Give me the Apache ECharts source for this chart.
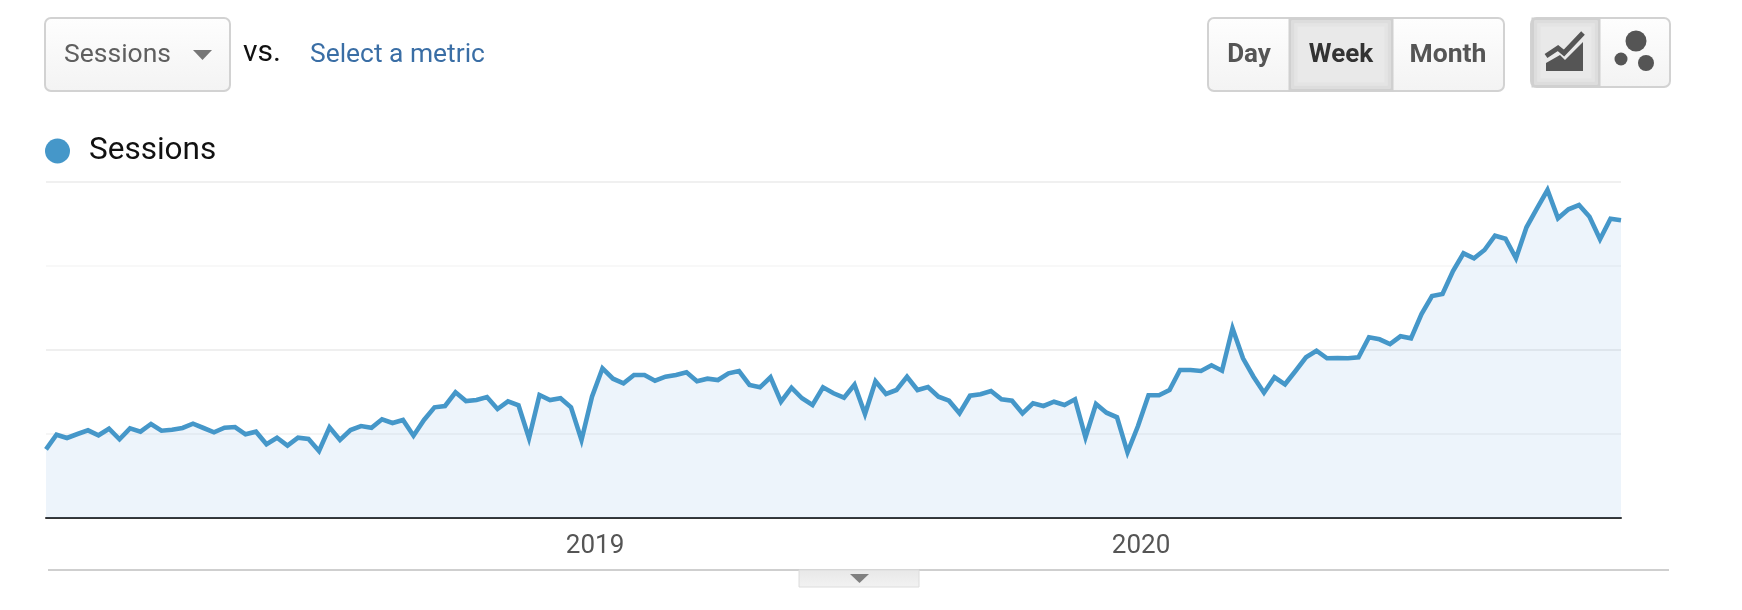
<!DOCTYPE html>
<html>
<head>
<meta charset="utf-8">
<title>Sessions</title>
<script src="https://cdn.jsdelivr.net/npm/echarts@6/dist/echarts.min.js"></script>
<style>
  html, body { margin: 0; padding: 0; background: #fff; }
  #chart { width: 1742px; height: 610px; }
</style>
</head>
<body>
<div id="chart"></div>
<script>
// no scale is printed on the picture, so values are in an arbitrary unit
const sessions = [
  687, 833, 800, 840, 877, 827, 893, 787, 897, 863,
  940, 873, 883, 900, 943, 900, 857, 903, 910, 837,
  863, 737, 803, 723, 803, 790, 670, 907, 780, 880,
  920, 903, 987, 950, 980, 823, 980, 1107, 1120, 1257,
  1170, 1180, 1210, 1090, 1167, 1127, 797, 1230, 1180, 1197,
  1107, 780, 1213, 1497, 1393, 1347, 1430, 1430, 1373, 1413,
  1430, 1457, 1367, 1393, 1380, 1447, 1470, 1330, 1307, 1407,
  1163, 1303, 1197, 1130, 1307, 1247, 1203, 1333, 1040, 1367,
  1240, 1280, 1413, 1280, 1310, 1213, 1173, 1047, 1223, 1237,
  1270, 1187, 1173, 1047, 1147, 1120, 1163, 1130, 1187, 807,
  1140, 1053, 1007, 657, 920, 1227, 1227, 1280, 1480, 1480,
  1470, 1527, 1473, 1897, 1597, 1413, 1253, 1407, 1337, 1470,
  1607, 1673, 1597, 1600, 1597, 1607, 1807, 1787, 1740, 1817,
  1797, 2040, 2220, 2240, 2470, 2647, 2597, 2680, 2823, 2793,
  2597, 2907, 3097, 3280, 2997, 3087, 3130, 3013, 2787, 2993,
  2977
]
// x is counted in weeks from the first point, new years fall part way through a week
const yearTicks = [52.29, 104.29]
const yearNames = ['2019', '2020']
const granularity = ['Day', 'Week', 'Month']

const points = sessions.map((v, i) => [i, v])

const chart = echarts.init(document.getElementById('chart'))

function btnFill() {
  return new echarts.graphic.LinearGradient(0, 0, 0, 1, [
    { offset: 0, color: '#fefefe' },
    { offset: 1, color: '#f3f3f3' }
  ])
}

function box(x, y, width, height) {
  return {
    type: 'rect',
    shape: { x, y, width, height, r: 6 },
    style: { fill: btnFill(), stroke: '#d2d2d2', lineWidth: 2 }
  }
}

// pressed button, the stacked outlines fake an inset shadow
function pressed(x, y, width, height) {
  return [
    {
      type: 'rect',
      shape: { x, y, width, height },
      style: { fill: '#e9e9e9', stroke: '#d0d0d0', lineWidth: 3 }
    },
    {
      type: 'rect',
      shape: { x: x + 3, y: y + 3, width: width - 6, height: height - 6 },
      style: { fill: 'none', stroke: '#dddddd', lineWidth: 3 }
    },
    {
      type: 'rect',
      shape: { x: x + 6, y: y + 6, width: width - 12, height: height - 12 },
      style: { fill: 'none', stroke: '#e4e4e4', lineWidth: 3 }
    }
  ]
}

function label(text, x, y, font, fill, align) {
  return {
    type: 'text',
    x,
    y,
    style: { text, font, fill, align: align || 'center', verticalAlign: 'middle' }
  }
}

function dot(cx, cy, r) {
  return { type: 'circle', shape: { cx, cy, r }, style: { fill: '#555' } }
}

const chrome = [
  // metric picker
  box(45, 18, 185, 73),
  label('Sessions', 64, 55, '26.5px Roboto', '#5f5f5f', 'left'),
  {
    type: 'polygon',
    shape: { points: [[193, 50], [212, 50], [202.5, 60]] },
    style: { fill: '#777' }
  },
  label('vs.', 243, 53, '30px Roboto', '#111', 'left'),
  label('Select a metric', 310, 55, '26.4px Roboto', '#3a6ea5', 'left'),
  // day / week / month
  box(1208, 18, 296, 73),
  ...pressed(1290, 19, 102, 71),
  label(granularity[0], 1249, 55, 'bold 26px Roboto', '#555'),
  label(granularity[1], 1341, 55, 'bold 26px Roboto', '#333'),
  label(granularity[2], 1448, 55, 'bold 26.5px Roboto', '#555'),
  // chart type toggle
  box(1531, 18, 139, 69),
  ...pressed(1533, 19, 66, 67),
  {
    type: 'polyline',
    shape: { points: [[1546, 56], [1558, 48], [1564, 53], [1583, 33]] },
    style: { fill: 'none', stroke: '#555', lineWidth: 5 }
  },
  {
    type: 'polygon',
    shape: { points: [[1546, 71], [1546, 63], [1560, 55], [1565, 60], [1583, 42], [1583, 71]] },
    style: { fill: '#555' }
  },
  dot(1636, 41, 10.5),
  dot(1621, 59, 6.5),
  dot(1646, 63, 8),
  // bottom rule and collapse tab
  {
    type: 'line',
    shape: { x1: 48, y1: 570, x2: 1669, y2: 570 },
    style: { stroke: '#cfcfcf', lineWidth: 2 }
  },
  {
    type: 'rect',
    shape: { x: 799, y: 570, width: 120, height: 17 },
    style: {
      fill: new echarts.graphic.LinearGradient(0, 0, 0, 1, [
        { offset: 0, color: '#e8e8e8' },
        { offset: 1, color: '#f2f2f2' }
      ]),
      stroke: '#dcdcdc',
      lineWidth: 1
    }
  },
  {
    type: 'polygon',
    shape: { points: [[850, 574], [869, 574], [859.5, 583]] },
    style: { fill: '#808080' }
  }
]

chart.setOption({
  animation: false,
  backgroundColor: '#fff',
  legend: {
    left: 40,
    top: 130,
    icon: 'circle',
    itemWidth: 25,
    itemHeight: 25,
    itemGap: 0,
    textStyle: { fontFamily: 'Roboto', fontSize: 31.5, color: '#111', padding: [6, 0, 0, 14] },
    data: ['Sessions']
  },
  grid: { left: 46, right: 121, top: 182, bottom: 92 },
  xAxis: {
    type: 'value',
    min: 0,
    max: sessions.length - 1,
    axisLine: { onZero: false, lineStyle: { color: '#333', width: 2 } },
    axisTick: { show: false },
    splitLine: { show: false },
    axisLabel: {
      customValues: yearTicks,
      formatter: val => yearNames[yearTicks.indexOf(val)] || '',
      margin: 15,
      fontFamily: 'Roboto',
      fontSize: 26,
      color: '#555'
    }
  },
  yAxis: {
    type: 'value',
    min: 0,
    max: 3360,
    interval: 840,
    axisLine: { show: false },
    axisTick: { show: false },
    axisLabel: { show: false },
    splitLine: {
      lineStyle: { color: ['#f5f5f5', '#f5f5f5', '#efefef', '#f8f8f8', '#f0f0f0'], width: 2 }
    }
  },
  series: [{
    name: 'Sessions',
    type: 'line',
    data: points,
    symbol: 'none',
    clip: false,
    itemStyle: { color: '#4597c9' },
    lineStyle: { color: '#4597c9', width: 4.6, join: 'miter' },
    areaStyle: { color: '#4a8fd8', opacity: 0.1 }
  }],
  graphic: { elements: chrome }
})
</script>
</body>
</html>
